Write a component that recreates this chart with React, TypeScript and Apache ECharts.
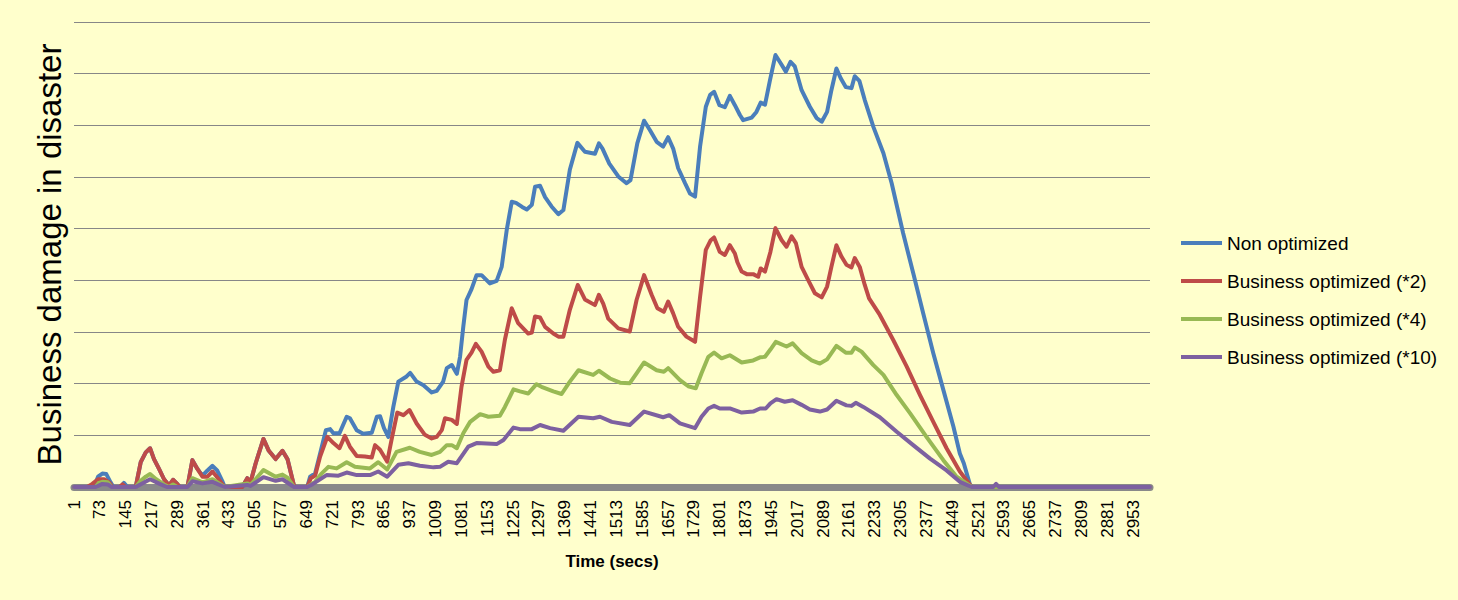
import React, { useEffect, useRef } from "react";
import * as echarts from "echarts";

// Time axis: one category per second
const FIRST_SEC = 1;
const LAST_SEC = 3000;
const LABEL_STEP = 72;

const seriesNames = [
  "Non optimized",
  "Business optimized (*2)",
  "Business optimized (*4)",
  "Business optimized (*10)",
];
const seriesColors = ["#4A7EBB", "#BE4B48", "#98B954", "#7D60A0"];

// [second, damage] samples
const nonOptimized: [number, number][] = [
  [1, 0], [57, 0], [68, 0.2], [80, 0.26], [91, 0.25], [103, 0.09], [111, 0], [131, 0], [140, 0.08], [150, 0],
  [173, 0], [187, 0.48], [201, 0.67], [213, 0.75], [224, 0.54], [238, 0.35], [252, 0.15], [266, 0.03], [277, 0.14],
  [289, 0.06], [296, 0], [317, 0], [331, 0.52], [345, 0.35], [359, 0.22], [373, 0.32], [387, 0.41], [400, 0.32],
  [414, 0.12], [421, 0], [470, 0], [484, 0.17], [493, 0.09], [507, 0.45], [529, 0.93], [544, 0.7], [563, 0.54],
  [582, 0.7], [596, 0.54], [614, 0.03], [619, 0], [651, 0], [659, 0.2], [673, 0.26], [687, 0.65], [703, 1.1],
  [715, 1.12], [724, 1.04], [741, 1.04], [761, 1.36], [770, 1.33], [789, 1.1], [807, 1.03], [831, 1.05], [845, 1.36],
  [854, 1.37], [865, 1.14], [877, 0.97], [891, 1.55], [905, 2.04], [928, 2.14], [938, 2.21], [956, 2.04], [975, 1.97],
  [998, 1.83], [1012, 1.86], [1030, 2.04], [1040, 2.3], [1054, 2.36], [1068, 2.19], [1077, 2.52], [1086, 3.1],
  [1095, 3.62], [1109, 3.83], [1123, 4.1], [1137, 4.1], [1160, 3.94], [1179, 3.99], [1193, 4.26], [1207, 4.97],
  [1221, 5.52], [1233, 5.5], [1250, 5.42], [1263, 5.37], [1277, 5.46], [1286, 5.81], [1300, 5.83], [1314, 5.61],
  [1332, 5.43], [1351, 5.28], [1365, 5.36], [1383, 6.14], [1404, 6.66], [1425, 6.49], [1453, 6.45], [1464, 6.65],
  [1474, 6.55], [1493, 6.26], [1518, 6.01], [1541, 5.88], [1552, 5.94], [1571, 6.65], [1590, 7.09], [1606, 6.91],
  [1625, 6.68], [1643, 6.59], [1657, 6.77], [1671, 6.55], [1685, 6.17], [1704, 5.88], [1718, 5.68], [1732, 5.62],
  [1746, 6.59], [1762, 7.36], [1774, 7.59], [1785, 7.65], [1800, 7.39], [1815, 7.35], [1829, 7.57], [1843, 7.39],
  [1857, 7.2], [1866, 7.1], [1890, 7.15], [1903, 7.26], [1915, 7.44], [1927, 7.4], [1941, 7.88], [1956, 8.36],
  [1968, 8.23], [1985, 8.04], [1998, 8.23], [2010, 8.14], [2029, 7.68], [2052, 7.36], [2071, 7.14], [2085, 7.07],
  [2100, 7.26], [2112, 7.68], [2126, 8.1], [2138, 7.91], [2152, 7.74], [2168, 7.72], [2177, 7.95], [2190, 7.86],
  [2205, 7.49], [2229, 6.97], [2257, 6.46], [2280, 5.88], [2312, 4.91], [2340, 4.14], [2368, 3.36], [2396, 2.59],
  [2424, 1.88], [2452, 1.17], [2470, 0.65], [2481, 0.46], [2498, 0.05], [2503, 0], [3000, 0],
];

const businessOpt2: [number, number][] = [
  [1, 0], [38, 0], [52, 0.06], [68, 0.15], [85, 0.15], [99, 0.09], [108, 0], [128, 0], [136, 0.05], [145, 0],
  [173, 0], [187, 0.48], [201, 0.67], [213, 0.75], [224, 0.54], [238, 0.35], [252, 0.15], [266, 0.03], [277, 0.14],
  [289, 0.06], [296, 0], [317, 0], [331, 0.52], [345, 0.35], [359, 0.2], [373, 0.2], [387, 0.3], [400, 0.19],
  [414, 0.06], [421, 0], [470, 0], [484, 0.17], [493, 0.09], [507, 0.45], [529, 0.93], [544, 0.7], [563, 0.54],
  [582, 0.7], [596, 0.54], [614, 0.03], [619, 0], [651, 0], [661, 0.17], [673, 0.22], [687, 0.59], [707, 0.97],
  [724, 0.85], [741, 0.75], [756, 0.99], [770, 0.78], [789, 0.6], [812, 0.59], [831, 0.57], [840, 0.81], [854, 0.72],
  [874, 0.49], [886, 0.91], [902, 1.44], [919, 1.39], [936, 1.49], [956, 1.23], [979, 1.01], [998, 0.94], [1012, 0.97],
  [1026, 1.1], [1035, 1.33], [1054, 1.3], [1068, 1.22], [1081, 1.94], [1095, 2.46], [1109, 2.6], [1121, 2.77],
  [1137, 2.62], [1156, 2.33], [1170, 2.23], [1188, 2.26], [1202, 2.85], [1221, 3.46], [1239, 3.17], [1267, 2.97],
  [1277, 2.99], [1286, 3.3], [1300, 3.28], [1314, 3.1], [1337, 2.97], [1351, 2.91], [1365, 2.91], [1383, 3.43],
  [1405, 3.91], [1425, 3.63], [1453, 3.52], [1464, 3.72], [1476, 3.55], [1490, 3.26], [1518, 3.07], [1550, 3.01],
  [1569, 3.62], [1590, 4.1], [1611, 3.72], [1627, 3.46], [1645, 3.39], [1657, 3.59], [1671, 3.36], [1685, 3.1],
  [1708, 2.91], [1732, 2.81], [1746, 3.68], [1762, 4.59], [1775, 4.77], [1785, 4.83], [1801, 4.55], [1815, 4.49],
  [1829, 4.68], [1843, 4.52], [1850, 4.35], [1862, 4.17], [1876, 4.12], [1894, 4.12], [1908, 4.07], [1915, 4.23],
  [1927, 4.17], [1942, 4.55], [1956, 5.01], [1973, 4.78], [1987, 4.65], [2001, 4.85], [2013, 4.72], [2029, 4.26],
  [2047, 4.01], [2066, 3.75], [2085, 3.67], [2100, 3.88], [2112, 4.26], [2126, 4.68], [2140, 4.46], [2154, 4.3],
  [2168, 4.25], [2177, 4.43], [2191, 4.26], [2205, 3.91], [2217, 3.65], [2247, 3.33], [2284, 2.85], [2322, 2.33],
  [2359, 1.78], [2396, 1.26], [2433, 0.75], [2470, 0.3], [2503, 0], [3000, 0],
];

const businessOpt4: [number, number][] = [
  [1, 0], [62, 0], [70, 0.08], [80, 0.1], [95, 0.09], [106, 0], [173, 0], [187, 0.12], [201, 0.2], [213, 0.25],
  [230, 0.15], [252, 0.05], [266, 0], [277, 0.05], [289, 0], [317, 0], [331, 0.17], [359, 0.09], [387, 0.15],
  [414, 0.03], [421, 0], [484, 0.07], [493, 0.04], [507, 0.15], [529, 0.33], [563, 0.2], [582, 0.24], [596, 0.18],
  [614, 0], [651, 0], [673, 0.1], [691, 0.26], [710, 0.39], [733, 0.36], [761, 0.48], [784, 0.39], [826, 0.36],
  [849, 0.48], [874, 0.34], [900, 0.68], [937, 0.76], [965, 0.68], [998, 0.62], [1021, 0.68], [1040, 0.81],
  [1054, 0.81], [1068, 0.75], [1086, 1.04], [1105, 1.26], [1133, 1.41], [1156, 1.36], [1188, 1.38], [1202, 1.55],
  [1226, 1.89], [1244, 1.85], [1267, 1.81], [1290, 1.99], [1304, 1.94], [1337, 1.85], [1360, 1.8], [1383, 2.04],
  [1407, 2.26], [1448, 2.17], [1464, 2.25], [1495, 2.1], [1523, 2.02], [1550, 2.01], [1569, 2.2], [1590, 2.41],
  [1625, 2.26], [1645, 2.23], [1657, 2.3], [1690, 2.07], [1713, 1.95], [1734, 1.91], [1750, 2.2], [1769, 2.52],
  [1785, 2.6], [1806, 2.49], [1829, 2.55], [1862, 2.41], [1894, 2.45], [1913, 2.51], [1927, 2.52], [1942, 2.66],
  [1957, 2.81], [1987, 2.72], [2004, 2.78], [2029, 2.59], [2057, 2.45], [2080, 2.39], [2100, 2.47], [2126, 2.73],
  [2152, 2.6], [2168, 2.6], [2177, 2.7], [2196, 2.62], [2229, 2.36], [2257, 2.17], [2294, 1.78], [2331, 1.43],
  [2377, 0.97], [2424, 0.52], [2461, 0.2], [2503, 0], [3000, 0],
];

const businessOpt10: [number, number][] = [
  [1, 0], [62, 0], [80, 0.06], [95, 0.05], [106, 0], [173, 0], [213, 0.15], [240, 0.06], [260, 0], [317, 0],
  [331, 0.11], [359, 0.07], [387, 0.1], [414, 0.02], [421, 0], [484, 0.04], [493, 0.02], [529, 0.19], [563, 0.12],
  [582, 0.15], [614, 0], [651, 0], [665, 0.05], [705, 0.23], [738, 0.22], [761, 0.28], [789, 0.23], [826, 0.23],
  [849, 0.3], [874, 0.2], [905, 0.43], [933, 0.46], [965, 0.41], [1003, 0.38], [1021, 0.39], [1044, 0.49],
  [1068, 0.46], [1100, 0.78], [1123, 0.85], [1179, 0.83], [1198, 0.91], [1226, 1.15], [1244, 1.12], [1277, 1.12],
  [1300, 1.2], [1328, 1.14], [1365, 1.09], [1407, 1.36], [1448, 1.33], [1467, 1.36], [1500, 1.26], [1550, 1.2],
  [1590, 1.46], [1643, 1.35], [1660, 1.39], [1690, 1.23], [1732, 1.14], [1750, 1.36], [1769, 1.52], [1785, 1.57],
  [1801, 1.52], [1829, 1.52], [1862, 1.44], [1894, 1.46], [1913, 1.52], [1929, 1.52], [1942, 1.62], [1959, 1.7],
  [1982, 1.65], [2004, 1.68], [2029, 1.59], [2052, 1.5], [2080, 1.46], [2100, 1.5], [2126, 1.67], [2154, 1.58],
  [2168, 1.57], [2180, 1.63], [2201, 1.55], [2247, 1.35], [2294, 1.07], [2340, 0.81], [2387, 0.55], [2433, 0.32],
  [2470, 0.1], [2503, 0], [2563, 0], [2571, 0.06], [2579, 0], [3000, 0],
];

const seriesSamples = [nonOptimized, businessOpt2, businessOpt4, businessOpt10];

const FONT = "'Liberation Sans', Arial, sans-serif";

export default function App() {
  const ref = useRef<HTMLDivElement>(null);

  useEffect(() => {
    if (!ref.current) return;
    const chart = echarts.init(ref.current, null, { renderer: "svg" });

    const categories: string[] = [];
    for (let s = FIRST_SEC; s <= LAST_SEC; s++) categories.push(String(s));

    chart.setOption({
      animation: false,
      backgroundColor: "#FFFFCC",
      grid: { left: 74, right: 308, top: 22, bottom: 113, containLabel: false },
      legend: {
        orient: "vertical",
        left: 1181,
        top: 233,
        padding: 0,
        icon: "rect",
        itemWidth: 41,
        itemHeight: 4,
        itemGap: 18,
        data: seriesNames,
        textStyle: { fontFamily: FONT, fontSize: 19, color: "#000", lineHeight: 20 },
      },
      xAxis: {
        type: "category",
        data: categories,
        boundaryGap: false,
        offset: 3,
        name: "Time (secs)",
        nameLocation: "middle",
        nameGap: 63,
        nameTextStyle: { fontFamily: FONT, fontSize: 17, fontWeight: "bold", color: "#000" },
        axisLine: { lineStyle: { color: "#898989", width: 7 } },
        axisTick: { show: false },
        axisLabel: {
          interval: LABEL_STEP - 1,
          rotate: 90,
          margin: 10,
          fontFamily: FONT,
          fontSize: 17,
          color: "#000",
        },
        splitLine: { show: false },
      },
      yAxis: {
        type: "value",
        min: 0,
        max: 9,
        interval: 1,
        name: "Business damage in disaster",
        nameLocation: "middle",
        nameRotate: 90,
        nameGap: 8,
        nameTextStyle: { fontFamily: FONT, fontSize: 33, color: "#000" },
        axisLine: { show: false },
        axisTick: { show: false },
        axisLabel: { show: false },
        splitLine: { lineStyle: { color: "#878787", width: 1 } },
      },
      series: seriesSamples.map((samples, i) => ({
        name: seriesNames[i],
        type: "line",
        showSymbol: false,
        connectNulls: true,
        color: seriesColors[i],
        lineStyle: { width: 4, color: seriesColors[i], cap: "round", join: "round" },
        data: samples.map(([sec, v]) => [sec - FIRST_SEC, v]),
      })),
    });

    return () => chart.dispose();
  }, []);

  return (
    <div
      ref={ref}
      style={{ position: "fixed", left: 0, top: 0, width: 1458, height: 600 }}
    />
  );
}
